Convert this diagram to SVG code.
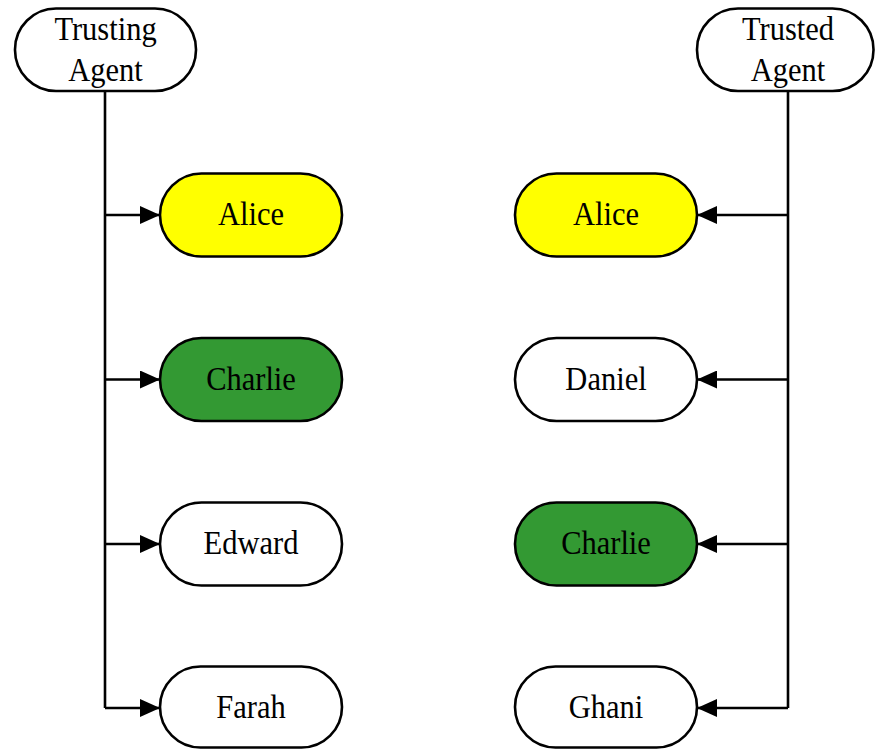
<svg xmlns="http://www.w3.org/2000/svg" width="875" height="749" viewBox="0 0 875 749">
  <style>
    .node { stroke: #000; stroke-width: 2.6; fill: #fff; }
    .yellow { fill: #ffff00; }
    .green { fill: #339933; }
    .label { font-family: "Liberation Serif", "Times New Roman", serif; font-size: 30.5px; fill: #000; text-anchor: middle; }
    .edge { stroke: #000; stroke-width: 2.6; fill: none; }
  </style>
  <defs>
    <marker id="arrow" viewBox="0 0 20 18" refX="20" refY="9" markerWidth="20" markerHeight="18" markerUnits="userSpaceOnUse" orient="auto">
      <path d="M0,0 L20,9 L0,18 Z" fill="#000"/>
    </marker>
  </defs>

  <!-- header nodes -->
  <g id="trusting-agent">
    <rect class="node" x="15" y="8.5" width="181" height="82.5" rx="41"/>
    <text class="label" transform="translate(105.5,40) scale(1,1.08)">Trusting</text>
    <text class="label" transform="translate(105.5,81) scale(1,1.08)">Agent</text>
  </g>
  <g id="trusted-agent">
    <rect class="node" x="697" y="8.5" width="176.5" height="82.5" rx="41"/>
    <text class="label" transform="translate(788,40) scale(1,1.08)">Trusted</text>
    <text class="label" transform="translate(788,81) scale(1,1.08)">Agent</text>
  </g>

  <!-- connectors -->
  <g id="connectors">
    <path class="edge" d="M105,91 V708"/>
    <path class="edge" d="M105,215 H160" marker-end="url(#arrow)"/>
    <path class="edge" d="M105,379.5 H160" marker-end="url(#arrow)"/>
    <path class="edge" d="M105,544 H160" marker-end="url(#arrow)"/>
    <path class="edge" d="M105,708 H160" marker-end="url(#arrow)"/>

    <path class="edge" d="M788,91 V708"/>
    <path class="edge" d="M788,215 H697" marker-end="url(#arrow)"/>
    <path class="edge" d="M788,379.5 H697" marker-end="url(#arrow)"/>
    <path class="edge" d="M788,544 H697" marker-end="url(#arrow)"/>
    <path class="edge" d="M788,708 H697" marker-end="url(#arrow)"/>
  </g>

  <!-- left column -->
  <g id="alice-left">
    <rect class="node yellow" x="160" y="173.5" width="182" height="83" rx="41.5"/>
    <text class="label" transform="translate(251,224.5) scale(1,1.08)">Alice</text>
  </g>
  <g id="charlie-left">
    <rect class="node green" x="160" y="338" width="182" height="83" rx="41.5"/>
    <text class="label" transform="translate(251,389.5) scale(1,1.08)">Charlie</text>
  </g>
  <g id="edward">
    <rect class="node" x="160" y="502.5" width="182" height="83" rx="41.5"/>
    <text class="label" transform="translate(251,553.5) scale(1,1.08)">Edward</text>
  </g>
  <g id="farah">
    <rect class="node" x="160" y="666.5" width="182" height="81" rx="40.5"/>
    <text class="label" transform="translate(251,718) scale(1,1.08)">Farah</text>
  </g>

  <!-- right column -->
  <g id="alice-right">
    <rect class="node yellow" x="515" y="173.5" width="182" height="83" rx="41.5"/>
    <text class="label" transform="translate(606,224.5) scale(1,1.08)">Alice</text>
  </g>
  <g id="daniel">
    <rect class="node" x="515" y="338" width="182" height="83" rx="41.5"/>
    <text class="label" transform="translate(606,389.5) scale(1,1.08)">Daniel</text>
  </g>
  <g id="charlie-right">
    <rect class="node green" x="515" y="502.5" width="182" height="83" rx="41.5"/>
    <text class="label" transform="translate(606,553.5) scale(1,1.08)">Charlie</text>
  </g>
  <g id="ghani">
    <rect class="node" x="515" y="666.5" width="182" height="81" rx="40.5"/>
    <text class="label" transform="translate(606,718) scale(1,1.08)">Ghani</text>
  </g>
</svg>
